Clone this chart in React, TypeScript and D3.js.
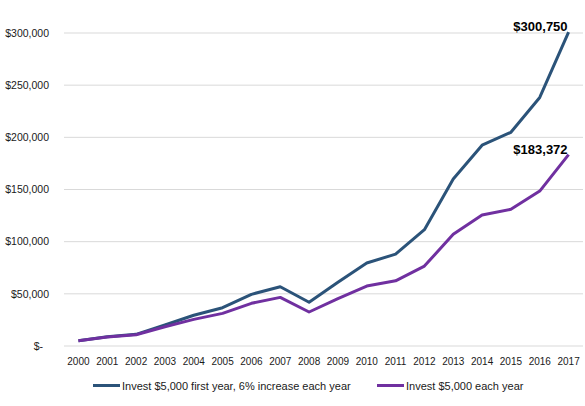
import React from "react";
import * as d3 from "d3";

const years = ["2000","2001","2002","2003","2004","2005","2006","2007","2008","2009","2010","2011","2012","2013","2014","2015","2016","2017"];
const increasing = [5000, 8900, 11200, 20100, 29500, 36700, 49500, 56800, 41900, 61000, 79500, 88000, 111500, 160000, 192500, 204800, 238200, 300750];
const flat = [5000, 8600, 10800, 18500, 25500, 31300, 40900, 46600, 32600, 45500, 57500, 62500, 76600, 107000, 125500, 131000, 148500, 183372];
const seriesNames = ["Invest $5,000 first year, 6% increase each year", "Invest $5,000 each year"];
const seriesColors = ["#2b5379", "#7030a0"];
const yTicks = [0, 50000, 100000, 150000, 200000, 250000, 300000];

const W = 585, H = 406;
const left = 64, right = 583, top = 33, bottom = 346;
const font = "'Liberation Sans', Arial, sans-serif";

export default function App() {
  const x = d3.scaleBand().domain(years).range([left, right]);
  const y = d3.scaleLinear().domain([0, 300000]).range([bottom, top]);
  const cx = (yr: string) => (x(yr) as number) + x.bandwidth() / 2;
  const line = d3.line<number>().x((_, i) => cx(years[i])).y((v) => y(v));
  const fmt = (v: number) => (v === 0 ? "$-" : "$" + d3.format(",")(v));
  const series = [increasing, flat];
  const legendX = [93, 377];
  return (
    <svg width={W} height={H} style={{ position: "absolute", left: 0, top: 0, background: "#fff" }}>
      {yTicks.map((t) => (
        <g key={t}>
          <line x1={left} x2={right} y1={y(t)} y2={y(t)} stroke="#d9d9d9" strokeWidth={1} />
          <text
            x={t === 0 ? 43 : 49}
            y={y(t)}
            dy="0.35em"
            textAnchor="end"
            fontFamily={font}
            fontSize={10.5}
            fill="#1a1a1a"
          >
            {fmt(t)}
          </text>
        </g>
      ))}
      {years.map((yr) => (
        <text key={yr} x={cx(yr)} y={bottom + 19} textAnchor="middle" fontFamily={font} fontSize={10} fill="#1a1a1a">
          {yr}
        </text>
      ))}
      {series.map((s, i) => (
        <path key={i} d={line(s) as string} fill="none" stroke={seriesColors[i]} strokeWidth={3} strokeLinejoin="round" />
      ))}
      {series.map((s, i) => {
        const last = s.length - 1;
        return (
          <text
            key={"lab" + i}
            x={cx(years[last]) - 1}
            y={y(s[last]) - 1}
            textAnchor="end"
            fontFamily={font}
            fontSize={13}
            fontWeight="bold"
            fill="#000"
          >
            {fmt(s[last])}
          </text>
        );
      })}
      {seriesNames.map((n, i) => (
        <g key={n}>
          <line x1={legendX[i]} x2={legendX[i] + 27} y1={385.5} y2={385.5} stroke={seriesColors[i]} strokeWidth={3} />
          <text x={legendX[i] + 29} y={389.5} fontFamily={font} fontSize={11} fill="#1a1a1a">
            {n}
          </text>
        </g>
      ))}
    </svg>
  );
}
